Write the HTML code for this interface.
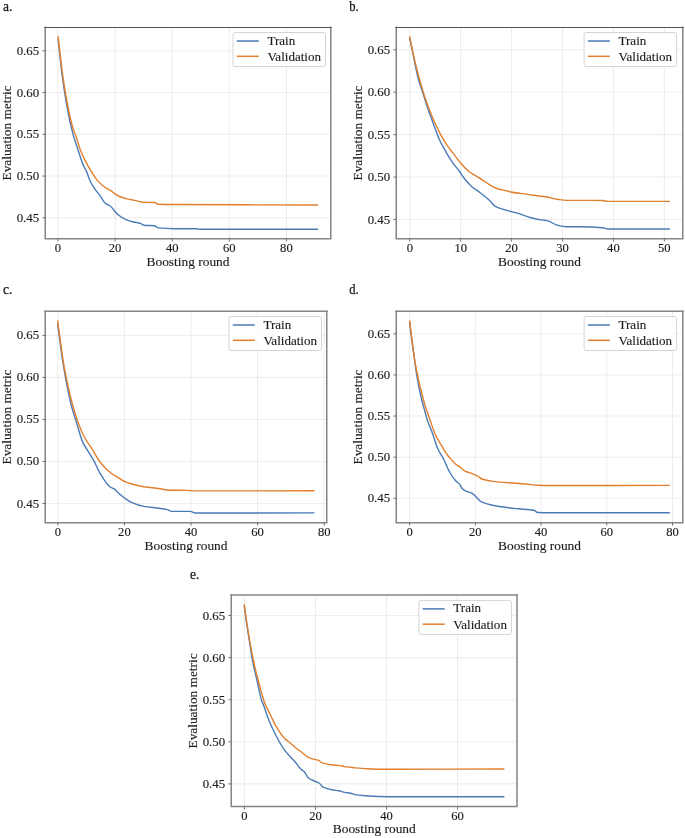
<!DOCTYPE html>
<html><head><meta charset="utf-8"><title>Boosting curves</title>
<style>
html,body{margin:0;padding:0;background:#fff;}
body{width:685px;height:838px;overflow:hidden;}
svg text{font-family:"Liberation Serif", serif;font-size:12.2px;fill:#1a1a1a;stroke:#1a1a1a;stroke-width:0.12px;} svg text.tk{font-size:11.7px;}
</style></head><body>
<svg width="685" height="838" viewBox="0 0 685 838" style="display:block;will-change:transform">
<rect x="0" y="0" width="685" height="838" fill="#fff"/>
<g><line x1="45.5" y1="50.8" x2="330.5" y2="50.8" stroke="#eeeeee" stroke-width="1.1"/>
<line x1="45.5" y1="92.55" x2="330.5" y2="92.55" stroke="#eeeeee" stroke-width="1.1"/>
<line x1="45.5" y1="134.3" x2="330.5" y2="134.3" stroke="#eeeeee" stroke-width="1.1"/>
<line x1="45.5" y1="176.05" x2="330.5" y2="176.05" stroke="#eeeeee" stroke-width="1.1"/>
<line x1="45.5" y1="217.8" x2="330.5" y2="217.8" stroke="#eeeeee" stroke-width="1.1"/>
<line x1="58" y1="27.5" x2="58" y2="238.5" stroke="#ebebeb" stroke-width="1"/>
<line x1="115.1" y1="27.5" x2="115.1" y2="238.5" stroke="#ebebeb" stroke-width="1"/>
<line x1="172.2" y1="27.5" x2="172.2" y2="238.5" stroke="#ebebeb" stroke-width="1"/>
<line x1="229.3" y1="27.5" x2="229.3" y2="238.5" stroke="#ebebeb" stroke-width="1"/>
<line x1="286.4" y1="27.5" x2="286.4" y2="238.5" stroke="#ebebeb" stroke-width="1"/>
<path d="M58,39 C59.6,52.7 61.2,68.84 62.8,80.1 C65.07,96.06 67.33,109.25 69.6,120 C70.4,123.8 71.2,126.66 72,130 C72.37,131.53 72.73,133.25 73.1,134.6 C74.67,140.36 76.23,144.48 77.8,149.2 C79.53,154.42 81.27,160.33 83,164.4 C84.17,167.14 85.33,168.74 86.5,171.4 C87.67,174.06 88.83,178.26 90,180.7 C91.6,184.04 93.2,186.44 94.8,188.8 C96.43,191.21 98.07,193.03 99.7,195.2 C101.83,198.04 103.97,202.51 106.1,203.9 C107.27,204.66 108.43,204.79 109.6,205.5 C112.33,207.17 115.07,212.3 117.8,214.5 C120.53,216.7 123.27,218.58 126,219.7 C128.5,220.73 131,221.4 133.5,222 C135.83,222.56 138.17,222.68 140.5,223.4 C141.67,223.76 142.83,225.18 144,225.3 C147.53,225.66 151.07,225.44 154.6,225.8 C155.77,225.92 156.93,227.77 158.1,227.9 C163.73,228.51 169.37,228.7 175,228.7 C182.33,228.7 189.67,228.7 197,228.7 C197.67,228.7 198.33,229.2 199,229.2 C238.67,229.2 278.33,229.2 318,229.2" fill="none" stroke="#4a7bb6" stroke-width="1.4" stroke-linejoin="round" stroke-linecap="butt"/>
<path d="M58,36.2 C59.8,50.83 61.6,68.31 63.4,80.1 C65.87,96.26 68.33,109.47 70.8,120 C71.7,123.84 72.6,127.4 73.5,130 C74.13,131.83 74.77,132.91 75.4,134.6 C76.97,138.79 78.53,145.14 80.1,149.2 C81.87,153.78 83.63,157.38 85.4,160.9 C87.33,164.75 89.27,168.27 91.2,171.4 C93.3,174.8 95.4,178.27 97.5,180.6 C100.4,183.81 103.3,186.43 106.2,188.2 C107.33,188.89 108.47,189.25 109.6,189.9 C112.23,191.41 114.87,194.23 117.5,195.5 C120.33,196.87 123.17,197.86 126,198.6 C128.93,199.37 131.87,199.77 134.8,200.4 C137.5,200.98 140.2,202.07 142.9,202.2 C146.8,202.39 150.7,202.27 154.6,202.5 C155.77,202.57 156.93,204.15 158.1,204.2 C163.73,204.44 169.37,204.46 175,204.5 C222.67,204.84 270.33,204.83 318,205" fill="none" stroke="#e27f2d" stroke-width="1.4" stroke-linejoin="round" stroke-linecap="butt"/>
<path d="M45.25,26.55 V239.5 M330.75,26.55 V239.5 M44.5,238.75 H331.5" fill="none" stroke="#848484" stroke-width="1.5"/>
<path d="M44.5,27.45 H331.5" fill="none" stroke="#505050" stroke-width="1.1"/>
<line x1="42.4" y1="50.8" x2="45.5" y2="50.8" stroke="#707070" stroke-width="1"/>
<text x="39.2" y="54.8" class="tk" text-anchor="end" textLength="22.5" lengthAdjust="spacingAndGlyphs">0.65</text>
<line x1="42.4" y1="92.55" x2="45.5" y2="92.55" stroke="#707070" stroke-width="1"/>
<text x="39.2" y="96.55" class="tk" text-anchor="end" textLength="22.5" lengthAdjust="spacingAndGlyphs">0.60</text>
<line x1="42.4" y1="134.3" x2="45.5" y2="134.3" stroke="#707070" stroke-width="1"/>
<text x="39.2" y="138.3" class="tk" text-anchor="end" textLength="22.5" lengthAdjust="spacingAndGlyphs">0.55</text>
<line x1="42.4" y1="176.05" x2="45.5" y2="176.05" stroke="#707070" stroke-width="1"/>
<text x="39.2" y="180.05" class="tk" text-anchor="end" textLength="22.5" lengthAdjust="spacingAndGlyphs">0.50</text>
<line x1="42.4" y1="217.8" x2="45.5" y2="217.8" stroke="#707070" stroke-width="1"/>
<text x="39.2" y="221.8" class="tk" text-anchor="end" textLength="22.5" lengthAdjust="spacingAndGlyphs">0.45</text>
<line x1="58" y1="238.5" x2="58" y2="241.6" stroke="#707070" stroke-width="1"/>
<text x="58" y="252.2" class="tk" text-anchor="middle" textLength="6.3" lengthAdjust="spacingAndGlyphs">0</text>
<line x1="115.1" y1="238.5" x2="115.1" y2="241.6" stroke="#707070" stroke-width="1"/>
<text x="115.1" y="252.2" class="tk" text-anchor="middle" textLength="12.6" lengthAdjust="spacingAndGlyphs">20</text>
<line x1="172.2" y1="238.5" x2="172.2" y2="241.6" stroke="#707070" stroke-width="1"/>
<text x="172.2" y="252.2" class="tk" text-anchor="middle" textLength="12.6" lengthAdjust="spacingAndGlyphs">40</text>
<line x1="229.3" y1="238.5" x2="229.3" y2="241.6" stroke="#707070" stroke-width="1"/>
<text x="229.3" y="252.2" class="tk" text-anchor="middle" textLength="12.6" lengthAdjust="spacingAndGlyphs">60</text>
<line x1="286.4" y1="238.5" x2="286.4" y2="241.6" stroke="#707070" stroke-width="1"/>
<text x="286.4" y="252.2" class="tk" text-anchor="middle" textLength="12.6" lengthAdjust="spacingAndGlyphs">80</text>
<text x="188" y="265.7" text-anchor="middle" textLength="83" lengthAdjust="spacingAndGlyphs">Boosting round</text>
<text transform="translate(11.3,133) rotate(-90)" x="0" y="0" text-anchor="middle" textLength="95" lengthAdjust="spacingAndGlyphs">Evaluation metric</text>
<rect x="233" y="32.5" width="92.5" height="34" rx="2" ry="2" fill="#fff" fill-opacity="0.85" stroke="#d4d4d4" stroke-width="1"/>
<line x1="236.8" y1="41" x2="258.8" y2="41" stroke="#4a7bb6" stroke-width="1.5"/>
<line x1="236.8" y1="56.3" x2="258.8" y2="56.3" stroke="#e27f2d" stroke-width="1.5"/>
<text x="267.4" y="44.5" textLength="27.8" lengthAdjust="spacingAndGlyphs">Train</text>
<text x="267.4" y="60.9" textLength="53.6" lengthAdjust="spacingAndGlyphs">Validation</text>
<text x="3" y="10.5" textLength="9.4" lengthAdjust="spacingAndGlyphs" style="font-size:14px;stroke:#111;stroke-width:0.25px">a.</text></g>
<g><line x1="396.5" y1="49.8" x2="682.5" y2="49.8" stroke="#eeeeee" stroke-width="1.1"/>
<line x1="396.5" y1="92.22" x2="682.5" y2="92.22" stroke="#eeeeee" stroke-width="1.1"/>
<line x1="396.5" y1="134.65" x2="682.5" y2="134.65" stroke="#eeeeee" stroke-width="1.1"/>
<line x1="396.5" y1="177.07" x2="682.5" y2="177.07" stroke="#eeeeee" stroke-width="1.1"/>
<line x1="396.5" y1="219.5" x2="682.5" y2="219.5" stroke="#eeeeee" stroke-width="1.1"/>
<line x1="409.8" y1="27.5" x2="409.8" y2="238.5" stroke="#ebebeb" stroke-width="1"/>
<line x1="460.7" y1="27.5" x2="460.7" y2="238.5" stroke="#ebebeb" stroke-width="1"/>
<line x1="511.6" y1="27.5" x2="511.6" y2="238.5" stroke="#ebebeb" stroke-width="1"/>
<line x1="562.5" y1="27.5" x2="562.5" y2="238.5" stroke="#ebebeb" stroke-width="1"/>
<line x1="613.4" y1="27.5" x2="613.4" y2="238.5" stroke="#ebebeb" stroke-width="1"/>
<line x1="664.3" y1="27.5" x2="664.3" y2="238.5" stroke="#ebebeb" stroke-width="1"/>
<path d="M409.5,37.4 C410.43,41.77 411.37,46.12 412.3,50.5 C414.33,60.04 416.37,71.69 418.4,79.2 C419.93,84.86 421.47,88.61 423,93.4 C424.5,98.08 426,103.2 427.5,107.6 C429.03,112.1 430.57,115.98 432.1,120.2 C433.1,122.95 434.1,125.81 435.1,128.5 C436.47,132.18 437.83,136.17 439.2,139.2 C441.43,144.15 443.67,147.92 445.9,151.8 C448.13,155.68 450.37,159.42 452.6,162.6 C454.8,165.73 457,167.99 459.2,171 C460.9,173.33 462.6,176.36 464.3,178.5 C466.73,181.56 469.17,184.25 471.6,186.4 C474.33,188.82 477.07,190.39 479.8,192.5 C482.9,194.9 486,197.19 489.1,200 C491.17,201.87 493.23,205.19 495.3,206.3 C500.43,209.06 505.57,209.92 510.7,211.4 C513.13,212.1 515.57,212.59 518,213.3 C522.37,214.57 526.73,216.59 531.1,217.7 C535,218.69 538.9,219.55 542.8,220.1 C544.27,220.31 545.73,220.35 547.2,220.6 C550.6,221.17 554,224.5 557.4,225.3 C560.3,225.98 563.2,226.7 566.1,226.7 C570.73,226.7 575.37,226.7 580,226.7 C587.57,226.7 595.13,227.03 602.7,227.7 C604.4,227.85 606.1,229 607.8,229 C628.5,229 649.2,229 669.9,229" fill="none" stroke="#4a7bb6" stroke-width="1.4" stroke-linejoin="round" stroke-linecap="butt"/>
<path d="M409.5,36.3 C410.47,40.87 411.43,45.53 412.4,50 C413.13,53.39 413.87,56.87 414.6,60 C416,65.98 417.4,71.52 418.8,76.7 C420.33,82.38 421.87,87.75 423.4,92.6 C424.93,97.45 426.47,101.87 428,106 C429.67,110.49 431.33,114.63 433,118.5 C434.53,122.06 436.07,125.31 437.6,128.5 C438.7,130.79 439.8,133.1 440.9,135.1 C443.1,139.1 445.3,142.68 447.5,145.9 C450.03,149.6 452.57,152.62 455.1,155.9 C457.3,158.75 459.5,161.85 461.7,164.3 C464.23,167.12 466.77,169.86 469.3,171.8 C470.8,172.95 472.3,173.75 473.8,174.7 C477.2,176.85 480.6,178.92 484,181 C487.83,183.35 491.67,186.58 495.5,188 C499.93,189.64 504.37,190.33 508.8,191.5 C509.43,191.67 510.07,191.87 510.7,192 C513.97,192.65 517.23,193.01 520.5,193.4 C522.1,193.59 523.7,193.69 525.3,193.9 C527.73,194.22 530.17,194.94 532.6,195.3 C536.97,195.94 541.33,196.15 545.7,196.8 C549.6,197.38 553.5,198.69 557.4,199.3 C560.3,199.75 563.2,200.4 566.1,200.4 C570.73,200.4 575.37,200.4 580,200.4 C587.57,200.4 595.13,200.42 602.7,200.5 C604.4,200.52 606.1,201.4 607.8,201.4 C628.5,201.4 649.2,201.4 669.9,201.4" fill="none" stroke="#e27f2d" stroke-width="1.4" stroke-linejoin="round" stroke-linecap="butt"/>
<path d="M396.25,26.55 V239.5 M682.75,26.55 V239.5 M395.5,238.75 H683.5" fill="none" stroke="#848484" stroke-width="1.5"/>
<path d="M395.5,27.45 H683.5" fill="none" stroke="#505050" stroke-width="1.1"/>
<line x1="393.4" y1="49.8" x2="396.5" y2="49.8" stroke="#707070" stroke-width="1"/>
<text x="390.2" y="53.8" class="tk" text-anchor="end" textLength="22.5" lengthAdjust="spacingAndGlyphs">0.65</text>
<line x1="393.4" y1="92.22" x2="396.5" y2="92.22" stroke="#707070" stroke-width="1"/>
<text x="390.2" y="96.22" class="tk" text-anchor="end" textLength="22.5" lengthAdjust="spacingAndGlyphs">0.60</text>
<line x1="393.4" y1="134.65" x2="396.5" y2="134.65" stroke="#707070" stroke-width="1"/>
<text x="390.2" y="138.65" class="tk" text-anchor="end" textLength="22.5" lengthAdjust="spacingAndGlyphs">0.55</text>
<line x1="393.4" y1="177.07" x2="396.5" y2="177.07" stroke="#707070" stroke-width="1"/>
<text x="390.2" y="181.07" class="tk" text-anchor="end" textLength="22.5" lengthAdjust="spacingAndGlyphs">0.50</text>
<line x1="393.4" y1="219.5" x2="396.5" y2="219.5" stroke="#707070" stroke-width="1"/>
<text x="390.2" y="223.5" class="tk" text-anchor="end" textLength="22.5" lengthAdjust="spacingAndGlyphs">0.45</text>
<line x1="409.8" y1="238.5" x2="409.8" y2="241.6" stroke="#707070" stroke-width="1"/>
<text x="409.8" y="252.2" class="tk" text-anchor="middle" textLength="6.3" lengthAdjust="spacingAndGlyphs">0</text>
<line x1="460.7" y1="238.5" x2="460.7" y2="241.6" stroke="#707070" stroke-width="1"/>
<text x="460.7" y="252.2" class="tk" text-anchor="middle" textLength="12.6" lengthAdjust="spacingAndGlyphs">10</text>
<line x1="511.6" y1="238.5" x2="511.6" y2="241.6" stroke="#707070" stroke-width="1"/>
<text x="511.6" y="252.2" class="tk" text-anchor="middle" textLength="12.6" lengthAdjust="spacingAndGlyphs">20</text>
<line x1="562.5" y1="238.5" x2="562.5" y2="241.6" stroke="#707070" stroke-width="1"/>
<text x="562.5" y="252.2" class="tk" text-anchor="middle" textLength="12.6" lengthAdjust="spacingAndGlyphs">30</text>
<line x1="613.4" y1="238.5" x2="613.4" y2="241.6" stroke="#707070" stroke-width="1"/>
<text x="613.4" y="252.2" class="tk" text-anchor="middle" textLength="12.6" lengthAdjust="spacingAndGlyphs">40</text>
<line x1="664.3" y1="238.5" x2="664.3" y2="241.6" stroke="#707070" stroke-width="1"/>
<text x="664.3" y="252.2" class="tk" text-anchor="middle" textLength="12.6" lengthAdjust="spacingAndGlyphs">50</text>
<text x="539.5" y="265.7" text-anchor="middle" textLength="83" lengthAdjust="spacingAndGlyphs">Boosting round</text>
<text transform="translate(362.3,133) rotate(-90)" x="0" y="0" text-anchor="middle" textLength="95" lengthAdjust="spacingAndGlyphs">Evaluation metric</text>
<rect x="584.1" y="32.5" width="92.5" height="34" rx="2" ry="2" fill="#fff" fill-opacity="0.85" stroke="#d4d4d4" stroke-width="1"/>
<line x1="587.9" y1="41" x2="609.9" y2="41" stroke="#4a7bb6" stroke-width="1.5"/>
<line x1="587.9" y1="56.3" x2="609.9" y2="56.3" stroke="#e27f2d" stroke-width="1.5"/>
<text x="618.5" y="44.5" textLength="27.8" lengthAdjust="spacingAndGlyphs">Train</text>
<text x="618.5" y="60.9" textLength="53.6" lengthAdjust="spacingAndGlyphs">Validation</text>
<text x="349.2" y="10.5" textLength="9.4" lengthAdjust="spacingAndGlyphs" style="font-size:14px;stroke:#111;stroke-width:0.25px">b.</text></g>
<g><line x1="45.5" y1="335.4" x2="326.5" y2="335.4" stroke="#eeeeee" stroke-width="1.1"/>
<line x1="45.5" y1="377.42" x2="326.5" y2="377.42" stroke="#eeeeee" stroke-width="1.1"/>
<line x1="45.5" y1="419.45" x2="326.5" y2="419.45" stroke="#eeeeee" stroke-width="1.1"/>
<line x1="45.5" y1="461.48" x2="326.5" y2="461.48" stroke="#eeeeee" stroke-width="1.1"/>
<line x1="45.5" y1="503.5" x2="326.5" y2="503.5" stroke="#eeeeee" stroke-width="1.1"/>
<line x1="57.8" y1="311.5" x2="57.8" y2="522.5" stroke="#ebebeb" stroke-width="1"/>
<line x1="124.4" y1="311.5" x2="124.4" y2="522.5" stroke="#ebebeb" stroke-width="1"/>
<line x1="191" y1="311.5" x2="191" y2="522.5" stroke="#ebebeb" stroke-width="1"/>
<line x1="257.6" y1="311.5" x2="257.6" y2="522.5" stroke="#ebebeb" stroke-width="1"/>
<line x1="324.2" y1="311.5" x2="324.2" y2="522.5" stroke="#ebebeb" stroke-width="1"/>
<path d="M57.6,323.5 C59.5,337.33 61.4,353.54 63.3,365 C65.93,380.88 68.57,394.5 71.2,405 C72.17,408.85 73.13,411.88 74.1,415 C74.67,416.83 75.23,418.44 75.8,420.2 C78.13,427.44 80.47,437.35 82.8,442.4 C84.17,445.36 85.53,447.13 86.9,449.4 C89.07,453 91.23,456.02 93.4,459.9 C95.67,463.96 97.93,469.9 100.2,473.6 C103.53,479.03 106.87,484.71 110.2,487 C111.67,488.01 113.13,488.21 114.6,489.2 C115.8,490.01 117,491.71 118.2,492.8 C120.4,494.8 122.6,496.65 124.8,498.2 C127,499.75 129.2,501.32 131.4,502.3 C135.53,504.14 139.67,505.65 143.8,506.4 C148.67,507.29 153.53,507.52 158.4,508.2 C161.33,508.61 164.27,508.89 167.2,509.6 C168.63,509.95 170.07,511.4 171.5,511.4 C177.83,511.4 184.17,511.4 190.5,511.4 C191.97,511.4 193.43,513 194.9,513 C234.73,513 274.57,512.93 314.4,512.9" fill="none" stroke="#4a7bb6" stroke-width="1.4" stroke-linejoin="round" stroke-linecap="butt"/>
<path d="M57.6,320.4 C59.7,335.3 61.8,353.26 63.9,365.1 C66.8,381.44 69.7,394.37 72.6,405 C74.47,411.84 76.33,417.41 78.2,422.5 C80.13,427.77 82.07,432.83 84,436.5 C86.53,441.31 89.07,444.19 91.6,448.2 C94.47,452.73 97.33,458.56 100.2,462.2 C103.63,466.56 107.07,470.16 110.5,472.8 C112.83,474.59 115.17,475.76 117.5,477.2 C119.93,478.7 122.37,480.52 124.8,481.6 C127.07,482.61 129.33,483.37 131.6,484 C135.67,485.13 139.73,486.05 143.8,486.7 C148.67,487.48 153.53,487.85 158.4,488.5 C162.3,489.02 166.2,490.11 170.1,490.2 C175.93,490.33 181.77,490.26 187.6,490.4 C189.53,490.44 191.47,490.9 193.4,490.9 C233.73,490.9 274.07,490.83 314.4,490.8" fill="none" stroke="#e27f2d" stroke-width="1.4" stroke-linejoin="round" stroke-linecap="butt"/>
<path d="M45.25,310.55 V523.5 M326.75,310.55 V523.5 M44.5,522.75 H327.5" fill="none" stroke="#848484" stroke-width="1.5"/>
<path d="M44.5,311.3 H327.5" fill="none" stroke="#848484" stroke-width="1.5"/>
<line x1="42.4" y1="335.4" x2="45.5" y2="335.4" stroke="#707070" stroke-width="1"/>
<text x="39.2" y="339.4" class="tk" text-anchor="end" textLength="22.5" lengthAdjust="spacingAndGlyphs">0.65</text>
<line x1="42.4" y1="377.42" x2="45.5" y2="377.42" stroke="#707070" stroke-width="1"/>
<text x="39.2" y="381.42" class="tk" text-anchor="end" textLength="22.5" lengthAdjust="spacingAndGlyphs">0.60</text>
<line x1="42.4" y1="419.45" x2="45.5" y2="419.45" stroke="#707070" stroke-width="1"/>
<text x="39.2" y="423.45" class="tk" text-anchor="end" textLength="22.5" lengthAdjust="spacingAndGlyphs">0.55</text>
<line x1="42.4" y1="461.48" x2="45.5" y2="461.48" stroke="#707070" stroke-width="1"/>
<text x="39.2" y="465.48" class="tk" text-anchor="end" textLength="22.5" lengthAdjust="spacingAndGlyphs">0.50</text>
<line x1="42.4" y1="503.5" x2="45.5" y2="503.5" stroke="#707070" stroke-width="1"/>
<text x="39.2" y="507.5" class="tk" text-anchor="end" textLength="22.5" lengthAdjust="spacingAndGlyphs">0.45</text>
<line x1="57.8" y1="522.5" x2="57.8" y2="525.6" stroke="#707070" stroke-width="1"/>
<text x="57.8" y="535.8" class="tk" text-anchor="middle" textLength="6.3" lengthAdjust="spacingAndGlyphs">0</text>
<line x1="124.4" y1="522.5" x2="124.4" y2="525.6" stroke="#707070" stroke-width="1"/>
<text x="124.4" y="535.8" class="tk" text-anchor="middle" textLength="12.6" lengthAdjust="spacingAndGlyphs">20</text>
<line x1="191" y1="522.5" x2="191" y2="525.6" stroke="#707070" stroke-width="1"/>
<text x="191" y="535.8" class="tk" text-anchor="middle" textLength="12.6" lengthAdjust="spacingAndGlyphs">40</text>
<line x1="257.6" y1="522.5" x2="257.6" y2="525.6" stroke="#707070" stroke-width="1"/>
<text x="257.6" y="535.8" class="tk" text-anchor="middle" textLength="12.6" lengthAdjust="spacingAndGlyphs">60</text>
<line x1="324.2" y1="522.5" x2="324.2" y2="525.6" stroke="#707070" stroke-width="1"/>
<text x="324.2" y="535.8" class="tk" text-anchor="middle" textLength="12.6" lengthAdjust="spacingAndGlyphs">80</text>
<text x="186" y="549.5" text-anchor="middle" textLength="83" lengthAdjust="spacingAndGlyphs">Boosting round</text>
<text transform="translate(11.3,417) rotate(-90)" x="0" y="0" text-anchor="middle" textLength="95" lengthAdjust="spacingAndGlyphs">Evaluation metric</text>
<rect x="229" y="316.5" width="92.5" height="34" rx="2" ry="2" fill="#fff" fill-opacity="0.85" stroke="#d4d4d4" stroke-width="1"/>
<line x1="232.8" y1="325" x2="254.8" y2="325" stroke="#4a7bb6" stroke-width="1.5"/>
<line x1="232.8" y1="340.3" x2="254.8" y2="340.3" stroke="#e27f2d" stroke-width="1.5"/>
<text x="263.4" y="328.5" textLength="27.8" lengthAdjust="spacingAndGlyphs">Train</text>
<text x="263.4" y="344.9" textLength="53.6" lengthAdjust="spacingAndGlyphs">Validation</text>
<text x="3" y="294" textLength="9.4" lengthAdjust="spacingAndGlyphs" style="font-size:14px;stroke:#111;stroke-width:0.25px">c.</text></g>
<g><line x1="396.5" y1="333.8" x2="682.5" y2="333.8" stroke="#eeeeee" stroke-width="1.1"/>
<line x1="396.5" y1="374.93" x2="682.5" y2="374.93" stroke="#eeeeee" stroke-width="1.1"/>
<line x1="396.5" y1="416.05" x2="682.5" y2="416.05" stroke="#eeeeee" stroke-width="1.1"/>
<line x1="396.5" y1="457.18" x2="682.5" y2="457.18" stroke="#eeeeee" stroke-width="1.1"/>
<line x1="396.5" y1="498.3" x2="682.5" y2="498.3" stroke="#eeeeee" stroke-width="1.1"/>
<line x1="409.6" y1="311.5" x2="409.6" y2="522.5" stroke="#ebebeb" stroke-width="1"/>
<line x1="475.32" y1="311.5" x2="475.32" y2="522.5" stroke="#ebebeb" stroke-width="1"/>
<line x1="541.04" y1="311.5" x2="541.04" y2="522.5" stroke="#ebebeb" stroke-width="1"/>
<line x1="606.76" y1="311.5" x2="606.76" y2="522.5" stroke="#ebebeb" stroke-width="1"/>
<line x1="672.48" y1="311.5" x2="672.48" y2="522.5" stroke="#ebebeb" stroke-width="1"/>
<path d="M409.6,321.6 C410.37,328.07 411.13,335.15 411.9,341 C412.67,346.85 413.43,351.65 414.2,357 C415.2,363.98 416.2,372.14 417.2,378 C418.4,385.04 419.6,390.83 420.8,396 C422.5,403.32 424.2,408.76 425.9,415 C426.27,416.35 426.63,417.84 427,419 C428.93,425.11 430.87,428.8 432.8,434.2 C434.37,438.58 435.93,444.68 437.5,448.2 C439.47,452.62 441.43,454.88 443.4,458.7 C445.47,462.72 447.53,468.41 449.6,472 C451.53,475.36 453.47,478.36 455.4,480.5 C456.83,482.09 458.27,482.6 459.7,484.4 C460.37,485.24 461.03,487.26 461.7,488 C463.13,489.59 464.57,490.54 466,491.2 C467.97,492.1 469.93,492.2 471.9,493.1 C475.07,494.55 478.23,500.31 481.4,501.8 C485.03,503.51 488.67,504.43 492.3,505.2 C497.67,506.34 503.03,507.03 508.4,507.7 C511.8,508.13 515.2,508.45 518.6,508.8 C523.7,509.33 528.8,509.29 533.9,510.3 C535.13,510.54 536.37,512.43 537.6,512.5 C541.73,512.73 545.87,512.8 550,512.8 C589.93,512.8 629.87,512.8 669.8,512.8" fill="none" stroke="#4a7bb6" stroke-width="1.4" stroke-linejoin="round" stroke-linecap="butt"/>
<path d="M409.6,320.4 C411.57,335.3 413.53,354.16 415.5,365.1 C418.63,382.52 421.77,394.42 424.9,405 C426.37,409.95 427.83,413.63 429.3,417.8 C431.27,423.4 433.23,429.89 435.2,434.2 C437.13,438.44 439.07,441.42 441,444.7 C443.33,448.65 445.67,452.87 448,455.8 C448.67,456.64 449.33,457.26 450,458 C451.8,459.99 453.6,462.5 455.4,464 C456.83,465.19 458.27,465.83 459.7,466.9 C460.83,467.74 461.97,468.87 463.1,469.7 C463.9,470.29 464.7,470.92 465.5,471.3 C467.73,472.37 469.97,472.71 472.2,473.6 C474.27,474.42 476.33,475.29 478.4,476.5 C479.53,477.16 480.67,478.58 481.8,479 C485.03,480.19 488.27,480.61 491.5,481.1 C494.33,481.53 497.17,481.82 500,482.1 C502.8,482.37 505.6,482.59 508.4,482.8 C514.23,483.24 520.07,483.5 525.9,484 C529.8,484.34 533.7,485.19 537.6,485.3 C541.73,485.42 545.87,485.5 550,485.5 C589.93,485.5 629.87,485.43 669.8,485.4" fill="none" stroke="#e27f2d" stroke-width="1.4" stroke-linejoin="round" stroke-linecap="butt"/>
<path d="M396.25,310.55 V523.5 M682.75,310.55 V523.5 M395.5,522.75 H683.5" fill="none" stroke="#848484" stroke-width="1.5"/>
<path d="M395.5,311.3 H683.5" fill="none" stroke="#848484" stroke-width="1.5"/>
<line x1="393.4" y1="333.8" x2="396.5" y2="333.8" stroke="#707070" stroke-width="1"/>
<text x="390.2" y="337.8" class="tk" text-anchor="end" textLength="22.5" lengthAdjust="spacingAndGlyphs">0.65</text>
<line x1="393.4" y1="374.93" x2="396.5" y2="374.93" stroke="#707070" stroke-width="1"/>
<text x="390.2" y="378.93" class="tk" text-anchor="end" textLength="22.5" lengthAdjust="spacingAndGlyphs">0.60</text>
<line x1="393.4" y1="416.05" x2="396.5" y2="416.05" stroke="#707070" stroke-width="1"/>
<text x="390.2" y="420.05" class="tk" text-anchor="end" textLength="22.5" lengthAdjust="spacingAndGlyphs">0.55</text>
<line x1="393.4" y1="457.18" x2="396.5" y2="457.18" stroke="#707070" stroke-width="1"/>
<text x="390.2" y="461.18" class="tk" text-anchor="end" textLength="22.5" lengthAdjust="spacingAndGlyphs">0.50</text>
<line x1="393.4" y1="498.3" x2="396.5" y2="498.3" stroke="#707070" stroke-width="1"/>
<text x="390.2" y="502.3" class="tk" text-anchor="end" textLength="22.5" lengthAdjust="spacingAndGlyphs">0.45</text>
<line x1="409.6" y1="522.5" x2="409.6" y2="525.6" stroke="#707070" stroke-width="1"/>
<text x="409.6" y="535.8" class="tk" text-anchor="middle" textLength="6.3" lengthAdjust="spacingAndGlyphs">0</text>
<line x1="475.32" y1="522.5" x2="475.32" y2="525.6" stroke="#707070" stroke-width="1"/>
<text x="475.32" y="535.8" class="tk" text-anchor="middle" textLength="12.6" lengthAdjust="spacingAndGlyphs">20</text>
<line x1="541.04" y1="522.5" x2="541.04" y2="525.6" stroke="#707070" stroke-width="1"/>
<text x="541.04" y="535.8" class="tk" text-anchor="middle" textLength="12.6" lengthAdjust="spacingAndGlyphs">40</text>
<line x1="606.76" y1="522.5" x2="606.76" y2="525.6" stroke="#707070" stroke-width="1"/>
<text x="606.76" y="535.8" class="tk" text-anchor="middle" textLength="12.6" lengthAdjust="spacingAndGlyphs">60</text>
<line x1="672.48" y1="522.5" x2="672.48" y2="525.6" stroke="#707070" stroke-width="1"/>
<text x="672.48" y="535.8" class="tk" text-anchor="middle" textLength="12.6" lengthAdjust="spacingAndGlyphs">80</text>
<text x="539.5" y="549.5" text-anchor="middle" textLength="83" lengthAdjust="spacingAndGlyphs">Boosting round</text>
<text transform="translate(362.3,417) rotate(-90)" x="0" y="0" text-anchor="middle" textLength="95" lengthAdjust="spacingAndGlyphs">Evaluation metric</text>
<rect x="584.1" y="316.5" width="92.5" height="34" rx="2" ry="2" fill="#fff" fill-opacity="0.85" stroke="#d4d4d4" stroke-width="1"/>
<line x1="587.9" y1="325" x2="609.9" y2="325" stroke="#4a7bb6" stroke-width="1.5"/>
<line x1="587.9" y1="340.3" x2="609.9" y2="340.3" stroke="#e27f2d" stroke-width="1.5"/>
<text x="618.5" y="328.5" textLength="27.8" lengthAdjust="spacingAndGlyphs">Train</text>
<text x="618.5" y="344.9" textLength="53.6" lengthAdjust="spacingAndGlyphs">Validation</text>
<text x="349.2" y="294" textLength="9.4" lengthAdjust="spacingAndGlyphs" style="font-size:14px;stroke:#111;stroke-width:0.25px">d.</text></g>
<g><line x1="231.5" y1="615.5" x2="517" y2="615.5" stroke="#eeeeee" stroke-width="1.1"/>
<line x1="231.5" y1="657.6" x2="517" y2="657.6" stroke="#eeeeee" stroke-width="1.1"/>
<line x1="231.5" y1="699.7" x2="517" y2="699.7" stroke="#eeeeee" stroke-width="1.1"/>
<line x1="231.5" y1="741.8" x2="517" y2="741.8" stroke="#eeeeee" stroke-width="1.1"/>
<line x1="231.5" y1="783.9" x2="517" y2="783.9" stroke="#eeeeee" stroke-width="1.1"/>
<line x1="244.4" y1="595.4" x2="244.4" y2="806.5" stroke="#ebebeb" stroke-width="1"/>
<line x1="315.45" y1="595.4" x2="315.45" y2="806.5" stroke="#ebebeb" stroke-width="1"/>
<line x1="386.5" y1="595.4" x2="386.5" y2="806.5" stroke="#ebebeb" stroke-width="1"/>
<line x1="457.55" y1="595.4" x2="457.55" y2="806.5" stroke="#ebebeb" stroke-width="1"/>
<path d="M244.2,605.6 C244.87,610.57 245.53,615.87 246.2,620.5 C247.23,627.68 248.27,633.92 249.3,640.5 C250.33,647.08 251.37,654.56 252.4,660 C253.9,667.9 255.4,673.41 256.9,680 C258.43,686.74 259.97,695.29 261.5,700 C262.07,701.74 262.63,702.81 263.2,704.3 C265.13,709.37 267.07,715.69 269,720.4 C271.33,726.09 273.67,731.02 276,735.5 C278.73,740.75 281.47,745.84 284.2,749.6 C286.53,752.81 288.87,755.1 291.2,757.7 C292.47,759.11 293.73,760.34 295,761.8 C296.93,764.03 298.87,767.26 300.8,769.1 C302.03,770.27 303.27,770.7 304.5,772 C305.7,773.27 306.9,776.82 308.1,777.8 C310.53,779.79 312.97,780.42 315.4,781.5 C316.63,782.05 317.87,782.27 319.1,783 C320.3,783.71 321.5,786.28 322.7,786.9 C326.13,788.68 329.57,789.43 333,790 C334.93,790.32 336.87,790.37 338.8,790.7 C340.73,791.03 342.67,792.04 344.6,792.4 C346.57,792.77 348.53,792.82 350.5,793.2 C351.97,793.48 353.43,794.35 354.9,794.6 C358.3,795.19 361.7,795.45 365.1,795.7 C369.97,796.06 374.83,796.4 379.7,796.5 C384.8,796.61 389.9,796.69 395,796.7 C431.47,796.78 467.93,796.77 504.4,796.8" fill="none" stroke="#4a7bb6" stroke-width="1.4" stroke-linejoin="round" stroke-linecap="butt"/>
<path d="M244.2,604.2 C244.93,609.47 245.67,615.08 246.4,620 C247.47,627.16 248.53,633.81 249.6,640 C250.83,647.16 252.07,654.16 253.3,660 C254.9,667.57 256.5,673.83 258.1,680 C259.97,687.19 261.83,694.25 263.7,700 C264.23,701.64 264.77,703.2 265.3,704.5 C266.93,708.47 268.57,711.19 270.2,714.5 C272.13,718.42 274.07,722.94 276,726.2 C278.73,730.81 281.47,735.05 284.2,737.9 C286.53,740.33 288.87,741.65 291.2,743.7 C292.47,744.81 293.73,746.15 295,747.2 C296.93,748.8 298.87,750.05 300.8,751.5 C303.33,753.4 305.87,756.14 308.4,757.3 C310.73,758.37 313.07,759.01 315.4,759.6 C316.33,759.84 317.27,759.91 318.2,760.2 C319.7,760.67 321.2,762.75 322.7,763.2 C326.13,764.23 329.57,764.67 333,765 C334.93,765.18 336.87,765.2 338.8,765.4 C340.73,765.6 342.67,766.34 344.6,766.6 C346.57,766.87 348.53,766.95 350.5,767.2 C351.97,767.38 353.43,767.75 354.9,767.9 C358.3,768.24 361.7,768.42 365.1,768.6 C369.97,768.85 374.83,769.2 379.7,769.2 C384.8,769.2 389.9,769.2 395,769.2 C431.47,769.2 467.93,769.07 504.4,769" fill="none" stroke="#e27f2d" stroke-width="1.4" stroke-linejoin="round" stroke-linecap="butt"/>
<path d="M231.25,594.25 V807.35 M517,594.25 V807.35 M230.5,806.6 H517.75" fill="none" stroke="#848484" stroke-width="1.5"/>
<path d="M230.5,595 H517.75" fill="none" stroke="#848484" stroke-width="1.5"/>
<line x1="228.4" y1="615.5" x2="231.5" y2="615.5" stroke="#707070" stroke-width="1"/>
<text x="225.2" y="619.5" class="tk" text-anchor="end" textLength="22.5" lengthAdjust="spacingAndGlyphs">0.65</text>
<line x1="228.4" y1="657.6" x2="231.5" y2="657.6" stroke="#707070" stroke-width="1"/>
<text x="225.2" y="661.6" class="tk" text-anchor="end" textLength="22.5" lengthAdjust="spacingAndGlyphs">0.60</text>
<line x1="228.4" y1="699.7" x2="231.5" y2="699.7" stroke="#707070" stroke-width="1"/>
<text x="225.2" y="703.7" class="tk" text-anchor="end" textLength="22.5" lengthAdjust="spacingAndGlyphs">0.55</text>
<line x1="228.4" y1="741.8" x2="231.5" y2="741.8" stroke="#707070" stroke-width="1"/>
<text x="225.2" y="745.8" class="tk" text-anchor="end" textLength="22.5" lengthAdjust="spacingAndGlyphs">0.50</text>
<line x1="228.4" y1="783.9" x2="231.5" y2="783.9" stroke="#707070" stroke-width="1"/>
<text x="225.2" y="787.9" class="tk" text-anchor="end" textLength="22.5" lengthAdjust="spacingAndGlyphs">0.45</text>
<line x1="244.4" y1="806.5" x2="244.4" y2="809.6" stroke="#707070" stroke-width="1"/>
<text x="244.4" y="819.8" class="tk" text-anchor="middle" textLength="6.3" lengthAdjust="spacingAndGlyphs">0</text>
<line x1="315.45" y1="806.5" x2="315.45" y2="809.6" stroke="#707070" stroke-width="1"/>
<text x="315.45" y="819.8" class="tk" text-anchor="middle" textLength="12.6" lengthAdjust="spacingAndGlyphs">20</text>
<line x1="386.5" y1="806.5" x2="386.5" y2="809.6" stroke="#707070" stroke-width="1"/>
<text x="386.5" y="819.8" class="tk" text-anchor="middle" textLength="12.6" lengthAdjust="spacingAndGlyphs">40</text>
<line x1="457.55" y1="806.5" x2="457.55" y2="809.6" stroke="#707070" stroke-width="1"/>
<text x="457.55" y="819.8" class="tk" text-anchor="middle" textLength="12.6" lengthAdjust="spacingAndGlyphs">60</text>
<text x="374.25" y="833.1" text-anchor="middle" textLength="83" lengthAdjust="spacingAndGlyphs">Boosting round</text>
<text transform="translate(197.3,700.95) rotate(-90)" x="0" y="0" text-anchor="middle" textLength="95" lengthAdjust="spacingAndGlyphs">Evaluation metric</text>
<rect x="418.9" y="600.4" width="92.5" height="34" rx="2" ry="2" fill="#fff" fill-opacity="0.85" stroke="#d4d4d4" stroke-width="1"/>
<line x1="422.7" y1="608.9" x2="444.7" y2="608.9" stroke="#4a7bb6" stroke-width="1.5"/>
<line x1="422.7" y1="624.2" x2="444.7" y2="624.2" stroke="#e27f2d" stroke-width="1.5"/>
<text x="453.3" y="612.4" textLength="27.8" lengthAdjust="spacingAndGlyphs">Train</text>
<text x="453.3" y="628.8" textLength="53.6" lengthAdjust="spacingAndGlyphs">Validation</text>
<text x="190.1" y="578.9" textLength="9.4" lengthAdjust="spacingAndGlyphs" style="font-size:14px;stroke:#111;stroke-width:0.25px">e.</text></g>
</svg>
</body></html>
